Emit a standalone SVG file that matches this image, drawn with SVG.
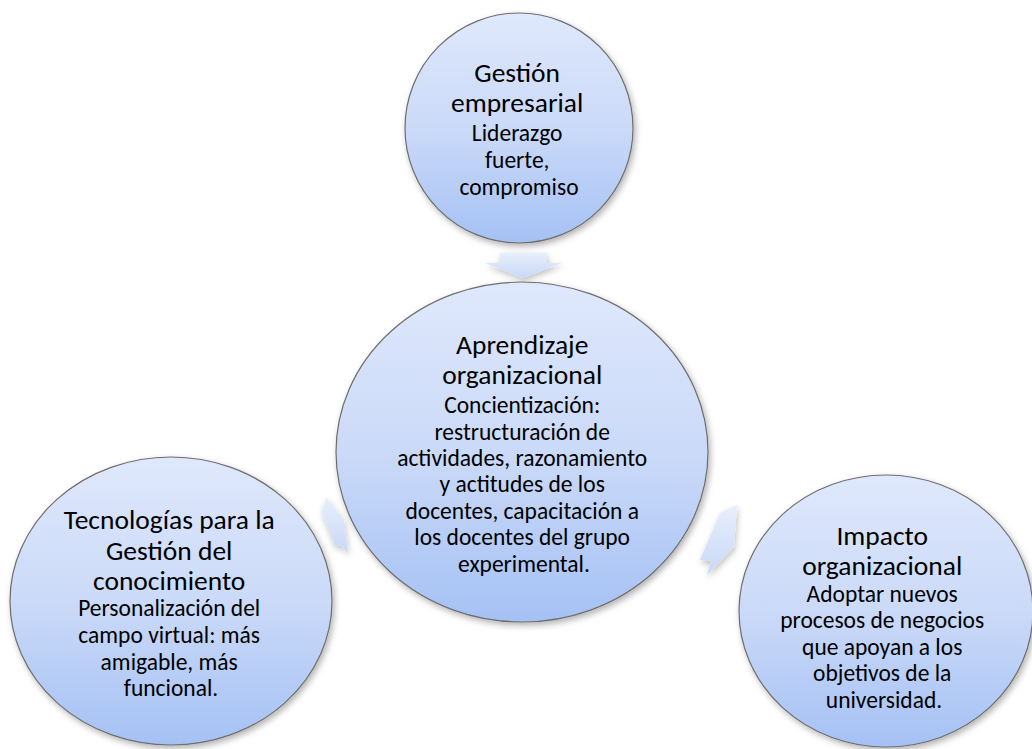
<svg xmlns="http://www.w3.org/2000/svg" width="1032" height="749" viewBox="0 0 1032 749">
  <style>
    .node ellipse { fill: url(#gBall); stroke: #6e6e6e; stroke-width: 1.2; filter: url(#shadow); }
    .arrow { fill: url(#gArrow); filter: url(#shadowA); }
    text { font-family: Carlito, Lato, "Liberation Sans", sans-serif; fill: #000; text-anchor: middle; }
    .t { font-size: 27.5px; }
    .b { font-size: 23.5px; }
  </style>
  <defs>
    <linearGradient id="gBall" x1="0" y1="0" x2="0" y2="1">
      <stop offset="0" stop-color="#dfe8fc"/>
      <stop offset="0.5" stop-color="#cbdaf8"/>
      <stop offset="1" stop-color="#a5c1f4"/>
    </linearGradient>
    <linearGradient id="gArrow" x1="0" y1="0" x2="0" y2="1">
      <stop offset="0" stop-color="#e8effc"/>
      <stop offset="1" stop-color="#c8d8f6"/>
    </linearGradient>
    <filter id="shadow" x="-10%" y="-10%" width="125%" height="125%">
      <feDropShadow dx="2" dy="3" stdDeviation="3" flood-color="#000" flood-opacity="0.3"/>
    </filter>
    <filter id="shadowA" x="-30%" y="-30%" width="160%" height="160%">
      <feDropShadow dx="1" dy="3" stdDeviation="3" flood-color="#000" flood-opacity="0.25"/>
    </filter>
  </defs>

  <g id="connectors">
    <polygon class="arrow" points="500,253 547,253 547,263 562,263 523,278 485,263 500,263"/>
    <polygon class="arrow" points="326,497 344,520 348,553 341,545 335,546 322,512"/>
    <polygon class="arrow" points="720,513 737,505 734,547 707,575 711,561 700,560"/>
  </g>

  <g id="node-gestion" class="node">
    <ellipse cx="519" cy="128" rx="114" ry="115"/>
    <text>
      <tspan class="t" x="519" y="82">Gestión</tspan>
      <tspan class="t" x="519" y="112">empresarial</tspan>
      <tspan class="b" x="519" y="141">Liderazgo</tspan>
      <tspan class="b" x="519" y="168">fuerte,</tspan>
      <tspan class="b" x="519" y="195">compromiso</tspan>
    </text>
  </g>

  <g id="node-aprendizaje" class="node">
    <ellipse cx="522" cy="452" rx="186" ry="170"/>
    <text>
      <tspan class="t" x="524" y="354">Aprendizaje</tspan>
      <tspan class="t" x="524" y="384">organizacional</tspan>
      <tspan class="b" x="524" y="413">Concientización:</tspan>
      <tspan class="b" x="524" y="439.5">restructuración de</tspan>
      <tspan class="b" x="524" y="466">actividades, razonamiento</tspan>
      <tspan class="b" x="524" y="492">y actitudes de los</tspan>
      <tspan class="b" x="524" y="518.5">docentes, capacitación a</tspan>
      <tspan class="b" x="524" y="545">los docentes del grupo</tspan>
      <tspan class="b" x="524" y="571.5">experimental.</tspan>
    </text>
  </g>

  <g id="node-tecnologias" class="node">
    <ellipse cx="171" cy="601" rx="161" ry="144"/>
    <text>
      <tspan class="t" x="171" y="529">Tecnologías para la</tspan>
      <tspan class="t" x="171" y="560">Gestión del</tspan>
      <tspan class="t" x="171" y="590">conocimiento</tspan>
      <tspan class="b" x="171" y="616">Personalización del</tspan>
      <tspan class="b" x="171" y="643">campo virtual: más</tspan>
      <tspan class="b" x="171" y="670">amigable, más</tspan>
      <tspan class="b" x="171" y="696">funcional.</tspan>
    </text>
  </g>

  <g id="node-impacto" class="node">
    <ellipse cx="886" cy="611" rx="147" ry="136"/>
    <text>
      <tspan class="t" x="884" y="545">Impacto</tspan>
      <tspan class="t" x="884" y="575">organizacional</tspan>
      <tspan class="b" x="884" y="602">Adoptar nuevos</tspan>
      <tspan class="b" x="884" y="628">procesos de negocios</tspan>
      <tspan class="b" x="884" y="655">que apoyan a los</tspan>
      <tspan class="b" x="884" y="681">objetivos de la</tspan>
      <tspan class="b" x="884" y="708">universidad.</tspan>
    </text>
  </g>
</svg>
